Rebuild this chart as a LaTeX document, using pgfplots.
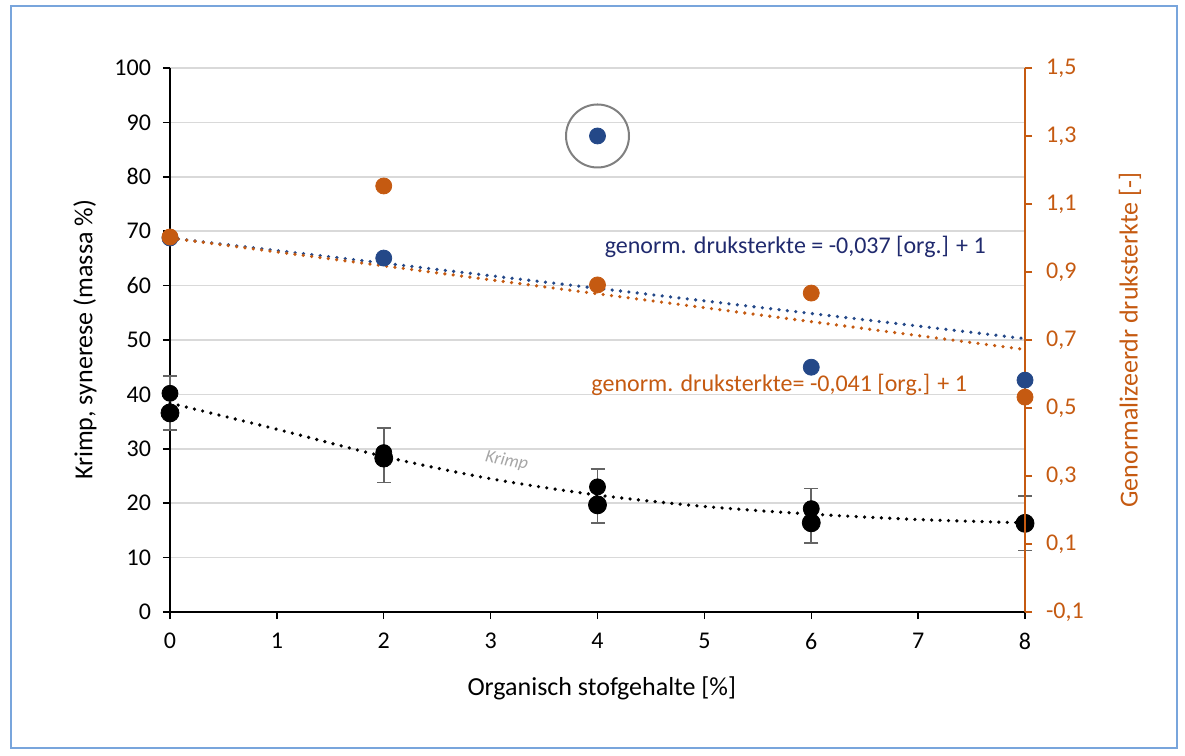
\documentclass[border=0pt]{standalone}
\usepackage{pgfplots}
\pgfplotsset{compat=1.18}
\usepackage{fontspec}
\setmainfont{Carlito}

\definecolor{dotblue}{RGB}{36,72,136}
\definecolor{txtblue}{RGB}{32,42,110}
\definecolor{orng}{RGB}{197,90,17}
\definecolor{gridgray}{RGB}{217,217,217}
\definecolor{errgray}{RGB}{100,100,100}
\definecolor{frameblue}{RGB}{120,165,220}

\pgfplotsset{
  base/.style={scale only axis, width=427.5pt, height=272pt, xmin=0, xmax=8,
    clip=false, tick align=outside, major tick length=3.5pt,
    /pgf/number format/assume math mode=true,
    ticklabel style={font=\fontsize{12}{14}\selectfont},
    label style={font=\fontsize{13}{15}\selectfont}},
  trend/.style={line width=1.8pt, line cap=round, dash pattern=on 0pt off 4.2pt},
}

\begin{document}
\begin{tikzpicture}
% left axis: krimp / synerese
\begin{axis}[base, ymin=0, ymax=100,
  axis x line*=bottom, axis y line*=left,
  axis line style={black, line width=0.75pt, -},
  tick style={black, line width=0.75pt},
  xtick={0,...,8}, ytick={0,10,...,100},
  xticklabel style={yshift=-3.5pt}, yticklabel style={xshift=-2.5pt},
  ymajorgrids, grid style={gridgray, line width=0.75pt},
  xlabel={Organisch stofgehalte [\%]}, ylabel={Krimp, synerese (massa \%)},
  xlabel style={at={(rel axis cs:0.505,-0.1397)}, anchor=center},
  ylabel style={at={(rel axis cs:-0.0994,0.5)}, anchor=center}]
% frame and page size
\draw[frameblue, line width=1pt] (rel axis cs:-0.186,-0.25) rectangle (rel axis cs:1.178,1.114);
\path (rel axis cs:-0.1988,-0.2629) rectangle (rel axis cs:1.1871,1.125);
% error bars are +-5 around the mean of the two samples
\addplot[draw=none, mark=none, forget plot,
  error bars/.cd, y dir=both, y explicit,
  error bar style={errgray, line width=0.9pt},
  error mark options={errgray, line width=0.9pt, rotate=90, mark size=3.5pt}]
  coordinates {(0,38.4) +- (0,5) (2,28.8) +- (0,5) (4,21.3) +- (0,5) (6,17.7) +- (0,5) (8,16.3) +- (0,5)};
\addplot[trend, black, smooth] coordinates {
  (0,38.4) (1,33.6) (2,28.6) (3,24.5) (4,21.5) (5,19.4) (6,18.0) (7,17.0) (8,16.4)};
\addplot[only marks, mark=*, mark size=4pt, black] coordinates {
  (0,40.2) (2,29.3) (4,23.0) (6,19.0) (8,16.4)};
\addplot[only marks, mark=*, mark size=4.5pt, black] coordinates {
  (0,36.6) (2,28.3) (4,19.7) (6,16.4) (8,16.3)};
\node[txtblue, font=\fontsize{12}{14}\selectfont] at (axis cs:5.85,67.1)
  {genorm. druksterkte = -0,037 [org.] + 1};
\node[orng, font=\fontsize{12}{14}\selectfont] at (axis cs:5.70,41.7)
  {genorm. druksterkte= -0,041 [org.] + 1};
\node[gray!70, font=\itshape\fontsize{9}{10}\selectfont, rotate=-11] at (axis cs:3.15,27.8) {Krimp};
\end{axis}
% right axis: normalised compressive strength
\begin{axis}[base, ymin=-0.1, ymax=1.5,
  axis x line=none, axis y line*=right,
  axis line style={orng, line width=0.75pt, -},
  tick style={orng, line width=0.75pt},
  ytick={-0.1,0.1,0.3,0.5,0.7,0.9,1.1,1.3,1.5},
  yticklabel style={orng, xshift=3.5pt, /pgf/number format/.cd, fixed, fixed zerofill, precision=1, use comma},
  ylabel={Genormalizeerdr druksterkte [-]},
  ylabel style={orng, at={(rel axis cs:1.1228,0.5)}, anchor=center, rotate=0}]
\addplot[trend, dotblue] coordinates {(0,1.0) (8,0.704)};
\addplot[trend, orng] coordinates {(0,1.0) (8,0.672)};
\addplot[only marks, mark=*, mark size=4pt, dotblue] coordinates {
  (0,1.0) (2,0.941) (4,1.30) (6,0.62) (8,0.582)};
\addplot[only marks, mark=*, mark size=4pt, orng] coordinates {
  (0,1.003) (2,1.153) (4,0.862) (6,0.838) (8,0.532)};
\draw[gray, line width=1pt] (axis cs:4,1.30) circle[radius=15.75pt];
\end{axis}
\end{tikzpicture}
\end{document}
